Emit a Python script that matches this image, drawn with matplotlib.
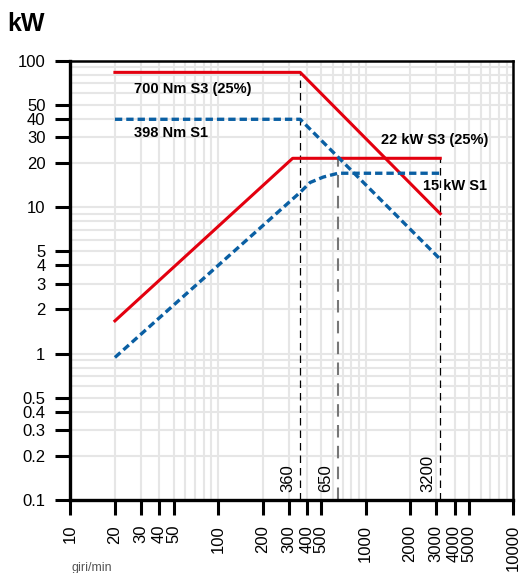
import matplotlib
matplotlib.use("Agg")
import matplotlib.pyplot as plt
from matplotlib.ticker import FixedLocator, NullFormatter, LogLocator

# ---- data -----------------------------------------------------------------
s3_torque_rpm = [20, 360, 3200]
s3_torque_kw = [83, 83, 9.0]
s3_power_rpm = [20, 320, 3200]
s3_power_kw = [1.67, 21.5, 21.5]

s1_torque_rpm = [20, 360, 3200]
s1_torque_kw = [39.7, 39.7, 4.4]
s1_power_rpm = [20, 360, 420, 515, 650, 3200]
s1_power_kw = [0.94, 12.6, 14.7, 16.0, 17.0, 17.0]

marker_rpm = [360, 650, 3200]
marker_top_kw = [83, 21.5, 21.5]
marker_labels = ["360", "650", "3200"]

x_ticks = [10, 20, 30, 40, 50, 100, 200, 300, 400, 500,
           1000, 2000, 3000, 4000, 5000, 10000]
y_ticks = [0.1, 0.2, 0.3, 0.4, 0.5, 1, 2, 3, 4, 5, 10, 20, 30, 40, 50, 100]

RED = "#e3000f"
BLUE = "#0a5fa3"
plt.rcParams["font.family"] = ["Liberation Sans", "DejaVu Sans"]

fig = plt.figure(figsize=(5.21, 5.73), dpi=100)
ax = fig.add_axes([0.1353, 0.1274, 0.8499, 0.767])
ax.set_xscale("log")
ax.set_yscale("log")
ax.set_xlim(10, 10000)
ax.set_ylim(0.1, 100)

# grid on every decade step
ax.xaxis.set_minor_locator(LogLocator(base=10, subs=range(2, 10)))
ax.yaxis.set_minor_locator(LogLocator(base=10, subs=range(2, 10)))
ax.grid(True, which="both", color="#e6e6e6", linewidth=1.5, zorder=0)

ax.xaxis.set_major_locator(FixedLocator(x_ticks))
ax.yaxis.set_major_locator(FixedLocator(y_ticks))
ax.set_xticklabels([str(v) for v in x_ticks], rotation=90)
ax.set_yticklabels([f"{v:g}" for v in y_ticks])
ax.xaxis.set_minor_formatter(NullFormatter())
ax.yaxis.set_minor_formatter(NullFormatter())
ax.tick_params(which="major", direction="out", length=11, width=2.2,
               labelsize=12, pad=7, color="black")
ax.tick_params(which="minor", length=0)

for side in ("left", "bottom"):
    ax.spines[side].set_linewidth(2.4)
for side in ("top", "right"):
    ax.spines[side].set_linewidth(1.8)

# vertical markers
for r, top, lab in zip(marker_rpm, marker_top_kw, marker_labels):
    col = "#777777" if lab == "650" else "black"
    lw = 1.5 if lab == "650" else 0.9
    ax.plot([r, r], [0.1, top], color=col, linewidth=lw,
            dashes=(6, 4), zorder=2)
    ax.annotate(lab, xy=(r, 0.1), xytext=(-9, 6), textcoords="offset points",
                rotation=90, ha="center", va="bottom", fontsize=12)

# curves
ax.plot(s3_torque_rpm, s3_torque_kw, color=RED, linewidth=2.2, zorder=3)
ax.plot(s3_power_rpm, s3_power_kw, color=RED, linewidth=2.2, zorder=3)
ax.plot(s1_torque_rpm, s1_torque_kw, color=BLUE, linewidth=2.4,
        dashes=(2.2, 1.2), zorder=3)
ax.plot(s1_power_rpm, s1_power_kw, color=BLUE, linewidth=2.4,
        dashes=(2.2, 1.2), zorder=3)

lab_kw = dict(transform=ax.transAxes, fontsize=10.5, fontweight="bold",
              va="center")
ax.text(0.143, 0.936, "700 Nm S3 (25%)", **lab_kw)
ax.text(0.143, 0.834, "398 Nm S1", **lab_kw)
ax.text(0.702, 0.818, "22 kW S3 (25%)", **lab_kw)
ax.text(0.797, 0.714, "15 kW S1", **lab_kw)

fig.text(7 / 521, 1 - 31 / 573, "kW", fontsize=18, fontweight="bold",
         va="baseline", ha="left")
fig.text(72 / 521, 1 - 568 / 573, "giri/min", fontsize=9, color="#555555",
         va="center", ha="left")

fig.savefig("out.png", dpi=100)
